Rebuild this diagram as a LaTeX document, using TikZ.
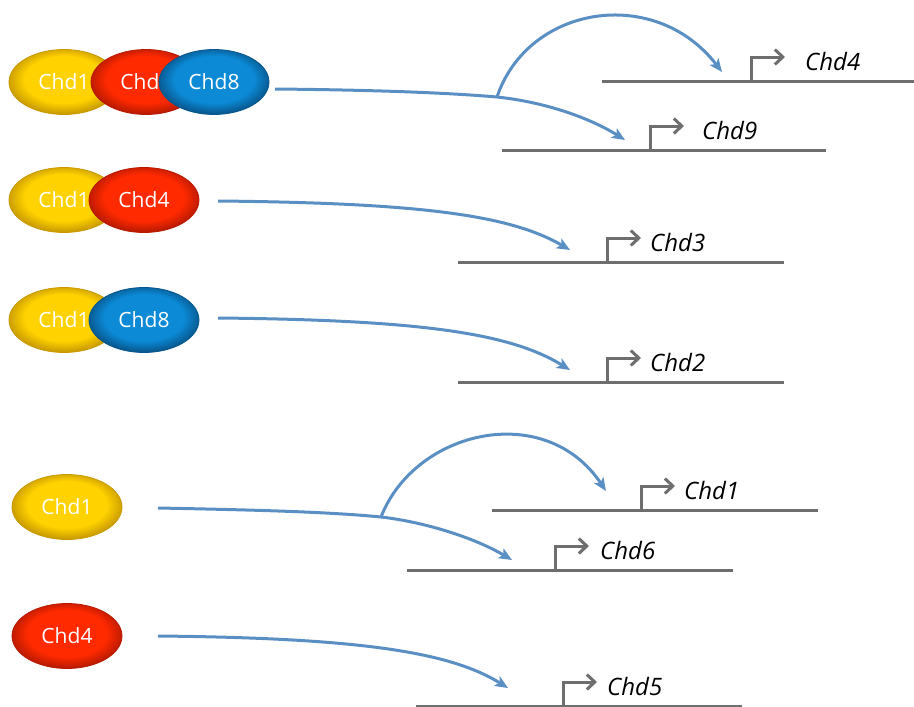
\documentclass[tikz,border=0pt]{standalone}
\usepackage{fontspec}
\setmainfont{Open Sans}
\usetikzlibrary{arrows.meta,shapes.geometric}
\definecolor{cy}{HTML}{FFD200}
\definecolor{cyd}{HTML}{C89A00}
\definecolor{cr}{HTML}{FF2A00}
\definecolor{crd}{HTML}{B81A00}
\definecolor{cb}{HTML}{0C8AD6}
\definecolor{cbd}{HTML}{07568C}
\definecolor{link}{HTML}{5A8FC3}
\definecolor{gene}{HTML}{6E6E6E}
\pgfdeclareradialshading{glossyY}{\pgfpoint{0bp}{3bp}}{color(0bp)=(cy); color(18bp)=(cy); color(26bp)=(cyd); color(50bp)=(cyd)}
\pgfdeclareradialshading{glossyR}{\pgfpoint{0bp}{3bp}}{color(0bp)=(cr); color(18bp)=(cr); color(26bp)=(crd); color(50bp)=(crd)}
\pgfdeclareradialshading{glossyB}{\pgfpoint{0bp}{3bp}}{color(0bp)=(cb); color(18bp)=(cb); color(26bp)=(cbd); color(50bp)=(cbd)}
\tikzset{
  prot/.style={ellipse, minimum width=110pt, minimum height=65pt, inner sep=0pt,
    font=\fontsize{21}{21}\selectfont, text=white, line width=0.8pt},
  pyel/.style={prot, draw=cyd, shading=glossyY},
  pred/.style={prot, draw=crd, shading=glossyR},
  pblu/.style={prot, draw=cbd, shading=glossyB},
  regul/.style={draw=link, line width=3pt},
  regarr/.style={regul, -{Stealth[length=13pt, width=11pt, inset=3pt]}},
  dna/.style={draw=gene, line width=3pt},
  tss/.style={draw=gene, line width=3pt, -{Straight Barb[length=8pt, width=15pt, line width=3pt]}},
  glabel/.style={font=\fontsize{24}{24}\selectfont\itshape, anchor=base west, inner sep=0pt}
}
\newcommand{\genedraw}[7]{% name, x1, x2, y, tssx, label offset, label
  \coordinate (#1L) at (#2,#4);
  \coordinate (#1R) at (#3,#4);
  \coordinate (#1T) at (#5,#4);
  \coordinate (#1U) at (#5,#4-24);
  \coordinate (#1E) at (#5+34,#4-24);
  \draw[dna] (#1L) -- (#1R);
  \draw[tss] (#1T) -- (#1U) -- (#1E);
  \node[glabel] (#1N) at (#5+#6,#4-11) {#7};
}
\begin{document}
\begin{tikzpicture}[x=1pt,y=-1pt]
\useasboundingbox (0,0) rectangle (914,707);
% ---- proteins
\node[pyel] (y1) at (64,82) {Chd1};
\node[pred] (r1) at (146,82) {Chd4};
\node[pblu] (b1) at (214,82) {Chd8};
\node[pyel] (y2) at (64,200) {Chd1};
\node[pred] (r2) at (144,200) {Chd4};
\node[pyel] (y3) at (64,320) {Chd1};
\node[pblu] (b3) at (144,320) {Chd8};
\node[pyel] (y4) at (67,507) {Chd1};
\node[pred] (r5) at (67,636) {Chd4};
% ---- genes
\genedraw{g4}{602}{914}{81}{751}{54}{Chd4}
\genedraw{g9}{502}{826}{150}{650}{52}{Chd9}
\genedraw{g3}{458}{784}{262}{607}{43}{Chd3}
\genedraw{g2}{458}{784}{382}{607}{43}{Chd2}
\genedraw{g1}{492}{818}{510}{641}{43}{Chd1}
\genedraw{g6}{407}{733}{570}{555}{45}{Chd6}
\genedraw{g5}{416}{742}{706}{563}{44}{Chd5}
% ---- regulation arrows
\coordinate (s1) at (275,89);
\coordinate (k1) at (497,97);
\coordinate (t9) at (625,140);
\coordinate (t4) at (722,72);
\draw[regul] (s1) .. controls (380,90) and (450,93) .. (k1);
\draw[regarr] (k1) .. controls (545,102) and (590,118) .. (t9);
\draw[regarr] (k1) .. controls (528,5) and (655,-15) .. (t4);

\coordinate (s2) at (218,201);
\coordinate (t3) at (570,250);
\draw[regarr] (s2) .. controls (420,203) and (510,215) .. (t3);

\coordinate (s3) at (218,318);
\coordinate (t2) at (570,370);
\draw[regarr] (s3) .. controls (420,320) and (510,333) .. (t2);

\coordinate (s4) at (158,508);
\coordinate (k4) at (381,517);
\coordinate (t6) at (512,560);
\coordinate (t1) at (606,491);
\draw[regul] (s4) .. controls (260,510) and (330,512) .. (k4);
\draw[regarr] (k4) .. controls (425,522) and (475,538) .. (t6);
\draw[regarr] (k4) .. controls (415,430) and (545,400) .. (t1);

\coordinate (s5) at (158,636);
\coordinate (t5) at (508,688);
\draw[regarr] (s5) .. controls (360,638) and (450,652) .. (t5);
\end{tikzpicture}
\end{document}
